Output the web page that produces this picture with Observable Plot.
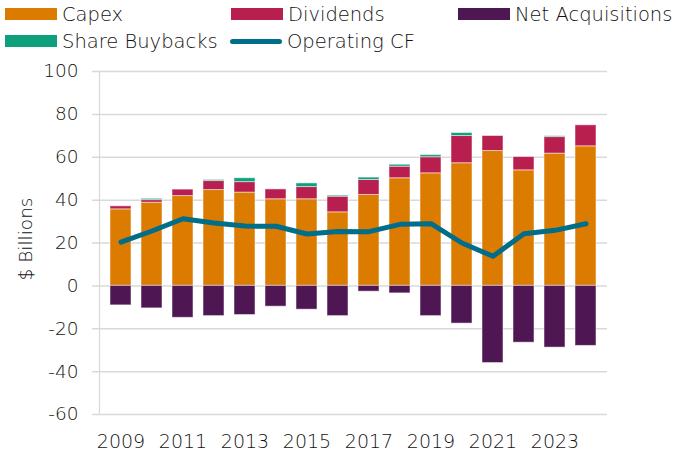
<!DOCTYPE html>
<html>
<head>
<meta charset="utf-8">
<script src="https://cdn.jsdelivr.net/npm/d3@7"></script>
<script src="https://cdn.jsdelivr.net/npm/@observablehq/plot@0.6"></script>
<style>
  html, body { margin: 0; padding: 0; background: #fff; }
  #wrap { position: relative; width: 674px; height: 454px; font-family: "DejaVu Sans", sans-serif; font-weight: 300; color: #111; }
  #legend { position: relative; width: 674px; height: 55px; }
  .item { position: absolute; height: 20px; display: flex; align-items: center; font-size: 19.5px; white-space: nowrap; }
  .sw { width: 52px; height: 12px; margin-right: 5px; }
  .ln { width: 52px; height: 5px; border-radius: 3px; margin-right: 5px; }
  #ylabel { position: absolute; left: 25px; top: 239px; transform: translate(-50%, -50%) rotate(-90deg); font-size: 18.5px; white-space: nowrap; }
  svg { display: block; }
  svg text { font-weight: 300; }
</style>
</head>
<body>
<div id="wrap">
  <div id="legend"></div>
  <div id="ylabel">$ Billions</div>
  <div id="chart"></div>
</div>
<script>
const years = [2009, 2010, 2011, 2012, 2013, 2014, 2015, 2016, 2017, 2018, 2019, 2020, 2021, 2022, 2023, 2024];
const capex = [35.7, 38.8, 41.9, 44.7, 43.5, 40.4, 40.4, 34.3, 42.4, 50.2, 52.5, 57.2, 62.9, 53.9, 61.7, 65.1];
const dividends = [1.4, 1.2, 3.0, 4.2, 4.9, 4.6, 5.7, 7.3, 7.0, 5.4, 7.5, 12.7, 7.0, 6.2, 7.7, 9.8];
const shareBuybacks = [0, 0.6, 0, 0.5, 1.8, 0, 1.7, 0.5, 1.1, 0.9, 1.0, 1.4, 0, 0, 0.4, 0];
const netAcquisitions = [-9.1, -10.5, -14.9, -14.1, -13.6, -9.7, -11.1, -14.1, -2.7, -3.5, -14.1, -17.6, -36.0, -26.5, -28.8, -28.0];
const operatingCF = [20.4, 25.6, 31.3, 29.3, 27.9, 27.8, 24.2, 25.4, 25.3, 28.7, 29.0, 20.0, 13.8, 24.3, 25.9, 29.0];

const xTickLabels = [2009, 2011, 2013, 2015, 2017, 2019, 2021, 2023];
const yTicks = [-60, -40, -20, 0, 20, 40, 60, 80, 100];

const seriesNames = ["Capex", "Dividends", "Share Buybacks", "Net Acquisitions"];
const seriesColors = ["#DB7B00", "#B91F4E", "#0E9F7B", "#4F1654"];
const ocfColor = "#006E8A";

const seriesValues = [capex, dividends, shareBuybacks, netAcquisitions];
const barData = [];
seriesNames.forEach((s, si) => {
  years.forEach((y, i) => barData.push({year: y, series: s, value: seriesValues[si][i]}));
});
const lineData = years.map((y, i) => ({year: y, value: operatingCF[i]}));

// Legend
const legendItems = [
  {label: "Capex", color: "#DB7B00", type: "sw", left: 5, top: 4},
  {label: "Dividends", color: "#B91F4E", type: "sw", left: 231, top: 4},
  {label: "Net Acquisitions", color: "#4F1654", type: "sw", left: 458, top: 4},
  {label: "Share Buybacks", color: "#0E9F7B", type: "sw", left: 5, top: 31},
  {label: "Operating CF", color: ocfColor, type: "ln", left: 230, top: 31}
];
const legend = document.getElementById("legend");
legendItems.forEach(it => {
  const d = document.createElement("div");
  d.className = "item";
  d.style.left = it.left + "px";
  d.style.top = it.top + "px";
  const s = document.createElement("span");
  s.className = it.type;
  s.style.background = it.color;
  d.appendChild(s);
  d.appendChild(document.createTextNode(it.label));
  legend.appendChild(d);
});

const fmt = d => String(d);

const chart = Plot.plot({
  width: 674,
  height: 399,
  marginLeft: 99,
  marginRight: 67,
  marginTop: 16,
  marginBottom: 40,
  style: {fontFamily: "DejaVu Sans", fontSize: "19px", color: "#111", background: "white"},
  x: {type: "band", domain: years, paddingInner: 0.31, paddingOuter: 0.155, label: null},
  y: {domain: [-60, 100], label: null},
  color: {domain: seriesNames, range: seriesColors},
  marks: [
    Plot.ruleY(yTicks, {stroke: "#d9d9d9", strokeWidth: 1.5, insetLeft: -7}),
    Plot.frame({anchor: "left", stroke: "#d9d9d9", strokeWidth: 1.2}),
    Plot.axisY({ticks: yTicks, tickSize: 0, tickPadding: 21, label: null, fontSize: 18.5, tickFormat: fmt}),
    Plot.axisX({ticks: xTickLabels, tickSize: 0, tickPadding: 20, label: null, fontSize: 19, tickFormat: fmt}),
    Plot.barY(barData, Plot.stackY({x: "year", y: "value", fill: "series", z: "series", order: seriesNames, stroke: "white", strokeOpacity: 0.5, strokeWidth: 1})),
    Plot.line(lineData, {x: "year", y: "value", stroke: ocfColor, strokeWidth: 5, strokeLinecap: "round", strokeLinejoin: "round"})
  ]
});
document.getElementById("chart").appendChild(chart);
</script>
</body>
</html>
